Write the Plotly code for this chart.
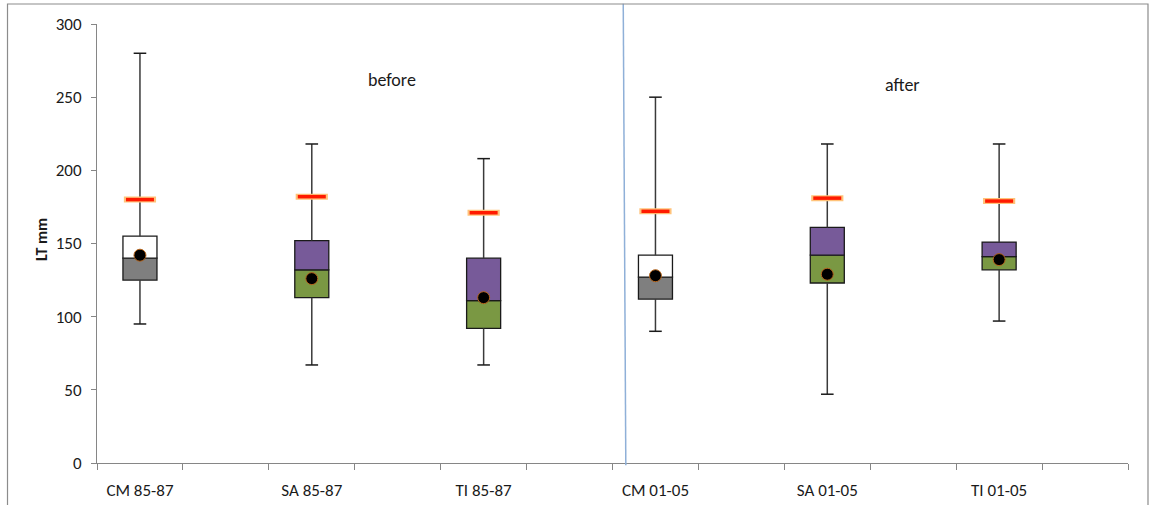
import plotly.graph_objects as go

# ---- data ----
categories = ["CM 85-87", "SA 85-87", "TI 85-87", "CM 01-05", "SA 01-05", "TI 01-05"]
whisker_low = [95, 67, 67, 90, 47, 97]
q1 = [125, 113, 92, 112, 123, 132]
median = [140, 132, 111, 127, 142, 141]
q3 = [155, 152, 140, 142, 161, 151]
whisker_high = [280, 218, 208, 250, 218, 218]
mean_vals = [142, 126, 113, 128, 129, 139]
red_marks = [180, 182, 171, 172, 181, 179]
lower_colors = ["#7F7F7F", "#7A9843", "#7A9843", "#7F7F7F", "#7A9843", "#7A9843"]
upper_colors = ["#FFFFFF", "#775A99", "#775A99", "#FFFFFF", "#775A99", "#775A99"]
y_ticks = [0, 50, 100, 150, 200, 250, 300]

# each category sits in every other slot of a 12-slot axis
xpos = [2 * i for i in range(len(categories))]
n_slots = 2 * len(categories)

FONT = "Carlito, Lato, 'Open Sans', sans-serif"

fig = go.Figure()

# lower part of box (q1 -> median)
fig.add_trace(go.Bar(
    x=xpos, y=[m - a for m, a in zip(median, q1)], base=q1,
    width=0.396, marker=dict(color=lower_colors, line=dict(color="#1a1a1a", width=1.3)),
    showlegend=False, hoverinfo="skip"))
# upper part of box (median -> q3)
fig.add_trace(go.Bar(
    x=xpos, y=[b - m for b, m in zip(q3, median)], base=median,
    width=0.396, marker=dict(color=upper_colors, line=dict(color="#1a1a1a", width=1.3)),
    showlegend=False, hoverinfo="skip"))

# whiskers
wx, wy = [], []
for p, lo, a, b, hi in zip(xpos, whisker_low, q1, q3, whisker_high):
    wx += [p, p, None, p, p, None]
    wy += [lo, a, None, b, hi, None]
fig.add_trace(go.Scatter(x=wx, y=wy, mode="lines", line=dict(color="#3a3a3a", width=1.5),
                         showlegend=False, hoverinfo="skip"))
# whisker caps
fig.add_trace(go.Scatter(x=xpos + xpos, y=whisker_low + whisker_high, mode="markers",
                         marker=dict(symbol="line-ew", size=9, line=dict(color="#1a1a1a", width=1.5)),
                         showlegend=False, hoverinfo="skip"))

# red marks with orange halo
fig.add_trace(go.Scatter(x=xpos, y=red_marks, mode="markers",
                         marker=dict(symbol="line-ew", size=23, line=dict(color="#FFC37A", width=6)),
                         showlegend=False, hoverinfo="skip"))
fig.add_trace(go.Scatter(x=xpos, y=red_marks, mode="markers",
                         marker=dict(symbol="line-ew", size=20, line=dict(color="#FF1A00", width=3.5)),
                         showlegend=False, hoverinfo="skip"))

# mean dots
fig.add_trace(go.Scatter(x=xpos, y=mean_vals, mode="markers",
                         marker=dict(symbol="circle", size=12, color="#000000",
                                     line=dict(color="#B5651D", width=1)),
                         showlegend=False, hoverinfo="skip"))

# bottom axis: labels only
fig.update_layout(
    xaxis=dict(range=[-0.5, n_slots - 0.5], tickvals=xpos, ticktext=categories,
               ticks="", showgrid=False, zeroline=False, showline=True,
               linecolor="#868686", linewidth=1, automargin=False,
               tickfont=dict(family=FONT, size=17, color="#1a1a1a"),
               ticklabelstandoff=12),
    xaxis2=dict(range=[-0.5, n_slots - 0.5], overlaying="x", anchor="y", side="bottom",
                tick0=-0.5, dtick=1, ticks="outside", ticklen=6, tickcolor="#868686",
                showticklabels=False, showgrid=False, zeroline=False, showline=False,
                automargin=False),
    yaxis=dict(range=[0, 300], tickvals=y_ticks, ticks="outside", ticklen=5,
               tickcolor="#868686", showline=True, linecolor="#868686", linewidth=1,
               showgrid=False, zeroline=False, automargin=False,
               tickfont=dict(family=FONT, size=17, color="#1a1a1a"),
               ticklabelstandoff=6),
)
# dummy trace to activate xaxis2
fig.add_trace(go.Scatter(x=[None], y=[None], xaxis="x2", showlegend=False, hoverinfo="skip"))

# period labels
fig.add_annotation(x=2.93, y=262, xref="x", yref="y", text="before", showarrow=False,
                   font=dict(family=FONT, size=18, color="#1a1a1a"))
fig.add_annotation(x=8.88, y=258, xref="x", yref="y", text="after", showarrow=False,
                   font=dict(family=FONT, size=18, color="#1a1a1a"))
# y axis title
fig.add_annotation(x=-0.0533, y=0.508, xref="paper", yref="paper", text="<b>LT mm</b>",
                   textangle=-90, showarrow=False, xanchor="center", yanchor="middle",
                   font=dict(family=FONT, size=16, color="#1a1a1a"))

# divider line and outer chart border
fig.add_shape(type="line", xref="x", yref="paper", x0=5.625, x1=5.655, y0=1.046, y1=-0.005,
              line=dict(color="#8FB0D8", width=1.5))
fig.add_shape(type="rect", xref="paper", yref="paper", x0=-0.0868, x1=1.0194, y0=-0.3, y1=1.0456,
              line=dict(color="#8C8C8C", width=1.2), fillcolor="rgba(0,0,0,0)")

fig.update_layout(
    width=1155, height=505, barmode="overlay",
    margin=dict(l=97, r=27, t=24, b=42, autoexpand=False),
    plot_bgcolor="white", paper_bgcolor="white",
    showlegend=False,
)

fig.write_html("out.html")
